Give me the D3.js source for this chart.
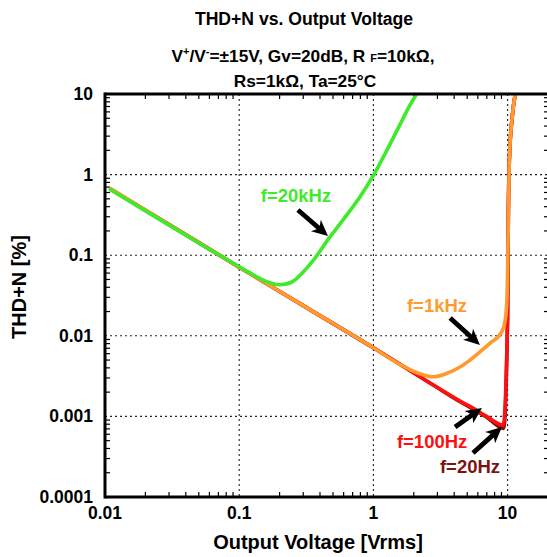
<!DOCTYPE html>
<html>
<head>
<meta charset="utf-8">
<script src="https://cdn.jsdelivr.net/npm/d3@7"></script>
<style>
  html, body { margin: 0; padding: 0; background: #fff; }
  text { font-family: "Liberation Sans", Arial, sans-serif; font-weight: bold; }
</style>
</head>
<body>
<svg id="chart" width="547" height="557"></svg>
<script>
// ---------- data ----------
const xTicks = [0.01, 0.1, 1, 10];
const xTickLabels = ["0.01", "0.1", "1", "10"];
const yTicks = [0.0001, 0.001, 0.01, 0.1, 1, 10];
const yTickLabels = ["0.0001", "0.001", "0.01", "0.1", "1", "10"];

const v20k = [0.011, 0.02, 0.05, 0.1, 0.13, 0.16, 0.2, 0.25, 0.3, 0.36, 0.47, 0.6, 0.8, 1.0, 1.26, 1.58, 1.85, 2.1];
const thd20k = [0.65, 0.355, 0.142, 0.072, 0.056, 0.047, 0.043, 0.047, 0.062, 0.088, 0.165, 0.28, 0.54, 0.98, 2.0, 4.2, 7.0, 10];

const v1k = [0.011, 0.03, 0.1, 0.3, 1.0, 1.58, 2.2, 2.79, 3.5, 4.42, 5.25, 6.22, 7.4, 9.04, 9.6, 9.9, 10.1, 10.3, 10.8, 11.4];
const thd1k = [0.67, 0.24, 0.071, 0.0237, 0.0071, 0.0044, 0.0034, 0.0031, 0.0034, 0.0041, 0.0050, 0.0063, 0.0081, 0.0112, 0.0157, 0.03, 0.2, 1.5, 5, 10];

const v100 = [0.011, 0.03, 0.1, 0.3, 1.0, 2.79, 4.42, 5.25, 6.98, 9.29, 10.0, 10.1, 10.3, 10.8, 11.4];
const thd100 = [0.66, 0.24, 0.071, 0.0237, 0.0071, 0.00245, 0.00155, 0.00133, 0.0010, 0.00078, 0.0173, 0.2, 1.5, 5, 10];

const v20 = [0.011, 0.03, 0.1, 0.3, 1.0, 2.79, 4.42, 6.98, 9.35, 10.0, 10.1, 10.3, 10.8, 11.4];
const thd20 = [0.66, 0.24, 0.071, 0.0237, 0.0071, 0.00245, 0.00152, 0.00098, 0.00071, 0.0173, 0.2, 1.5, 5, 10];

const seriesNames = ["f=20Hz", "f=100Hz", "f=1kHz", "f=20kHz"];
const seriesColors = ["#8a0d0d", "#ff1010", "#ff9a2e", "#3fea2a"];
const labelColors = ["#7d1212", "#ff1010", "#ff9a2e", "#3fea2a"];
// label anchor (V, THD) and arrow tail/tip (V, THD)
const labelPos = [[5.25, 0.000199], [2.74, 0.000405], [2.98, 0.0197], [0.265, 0.457]];
const arrowTail = [[5.52, 0.000352], [4.06, 0.00074], [3.73, 0.0166], [0.274, 0.364]];
const arrowTip = [[9.08, 0.00074], [6.44, 0.00127], [6.22, 0.0077], [0.459, 0.173]];

// ---------- layout ----------
const svg = d3.select("#chart");
const x = d3.scaleLog().domain([0.01, 20]).range([105, 548]);
const y = d3.scaleLog().domain([0.0001, 10]).range([497, 94]);
const [x0, x1] = x.range();
const [y0, y1] = y.range();

// grid
const grid = svg.append("g").attr("stroke", "#222").attr("stroke-width", 1.1).attr("stroke-dasharray", "2,3");
grid.selectAll(".gx").data(xTicks.filter(d => d > 0.01)).join("line")
  .attr("x1", d => x(d)).attr("x2", d => x(d)).attr("y1", y1).attr("y2", y0);
grid.selectAll(".gy").data(yTicks.filter(d => d > 0.0001 && d < 10)).join("line")
  .attr("x1", x0).attr("x2", x1).attr("y1", d => y(d)).attr("y2", d => y(d));

// minor ticks (inward)
const xMinor = [], yMinor = [];
for (let e = -2; e <= 1; e++) for (let m = 2; m <= 9; m++) { const v = m * Math.pow(10, e); if (v < 20) xMinor.push(v); }
for (let e = -4; e <= 0; e++) for (let m = 2; m <= 9; m++) yMinor.push(m * Math.pow(10, e));
const tk = svg.append("g").attr("stroke", "#000").attr("stroke-width", 1.2);
tk.selectAll(".tb").data(xMinor).join("line").attr("x1", d => x(d)).attr("x2", d => x(d)).attr("y1", y0).attr("y2", y0 - 5);
tk.selectAll(".tt").data(xMinor).join("line").attr("x1", d => x(d)).attr("x2", d => x(d)).attr("y1", y1).attr("y2", y1 + 5);
tk.selectAll(".tl").data(yMinor).join("line").attr("y1", d => y(d)).attr("y2", d => y(d)).attr("x1", x0).attr("x2", x0 + 5);
tk.selectAll(".tr").data(yMinor).join("line").attr("y1", d => y(d)).attr("y2", d => y(d)).attr("x1", x1 + 1).attr("x2", x1 - 4);

// curves
const lineMono = d3.line().x(d => x(d[0])).y(d => y(d[1])).curve(d3.curveMonotoneX);
const lineSmooth = d3.line().x(d => x(d[0])).y(d => y(d[1])).curve(d3.curveCatmullRom.alpha(0.5));
const series = [
  d3.zip(v20, thd20), d3.zip(v100, thd100), d3.zip(v1k, thd1k), d3.zip(v20k, thd20k)
];
svg.append("defs").append("clipPath").attr("id", "clip")
  .append("rect").attr("x", x0).attr("y", y1).attr("width", x1 - x0).attr("height", y0 - y1);
svg.append("g").attr("clip-path", "url(#clip)")
  .selectAll("path").data(series).join("path")
  .attr("d", (d, i) => i === 3 ? lineSmooth(d) : lineMono(d)).attr("fill", "none")
  .attr("stroke", (d, i) => seriesColors[i]).attr("stroke-width", 3.6)
  .attr("stroke-linejoin", "round").attr("stroke-linecap", "round");

// frame (right edge falls just outside the picture)
const frame = svg.append("g").attr("stroke", "#000").attr("stroke-width", 3).attr("fill", "none");
frame.append("line").attr("x1", x0).attr("x2", x0).attr("y1", y1 - 1.5).attr("y2", y0 + 1.5);
frame.append("line").attr("x1", x0).attr("x2", x1 + 3).attr("y1", y1).attr("y2", y1);
frame.append("line").attr("x1", x0).attr("x2", x1 + 3).attr("y1", y0).attr("y2", y0);
frame.append("line").attr("x1", x1 + 2).attr("x2", x1 + 2).attr("y1", y1).attr("y2", y0);

// tick labels
svg.append("g").selectAll("text").data(xTicks).join("text")
  .attr("x", d => x(d)).attr("y", 519).attr("text-anchor", "middle")
  .attr("font-size", 17.5).text((d, i) => xTickLabels[i]);
svg.append("g").selectAll("text").data(yTicks).join("text")
  .attr("x", 93).attr("y", d => y(d) + 6).attr("text-anchor", "end")
  .attr("font-size", 17.5).text((d, i) => yTickLabels[i]);

// axis titles
svg.append("text").attr("x", 318).attr("y", 549).attr("text-anchor", "middle")
  .attr("font-size", 20).text("Output Voltage [Vrms]");
svg.append("text").attr("transform", "translate(26,287) rotate(-90)").attr("text-anchor", "middle")
  .attr("font-size", 20).text("THD+N [%]");

// titles
svg.append("text").attr("x", 304).attr("y", 25).attr("text-anchor", "middle")
  .attr("font-size", 17.6).text("THD+N vs. Output Voltage");
const sub = svg.append("text").attr("x", 303).attr("y", 62).attr("text-anchor", "middle").attr("font-size", 17.3);
sub.append("tspan").text("V");
sub.append("tspan").attr("font-size", 11).attr("dy", -7).text("+");
sub.append("tspan").attr("dy", 7).text("/V");
sub.append("tspan").attr("font-size", 11).attr("dy", -7).text("-");
sub.append("tspan").attr("dy", 7).text("=±15V, Gv=20dB, R ");
sub.append("tspan").attr("font-size", 11).text("F");
sub.append("tspan").text("=10kΩ,");
svg.append("text").attr("x", 305).attr("y", 87).attr("text-anchor", "middle")
  .attr("font-size", 17.3).text("Rs=1kΩ, Ta=25°C");

// annotations
const ann = svg.append("g");
seriesNames.forEach((name, i) => {
  ann.append("text").attr("x", x(labelPos[i][0])).attr("y", y(labelPos[i][1]))
    .attr("text-anchor", "middle").attr("font-size", 18.5).attr("fill", labelColors[i]).text(name);
  const tx = x(arrowTail[i][0]), ty = y(arrowTail[i][1]);
  const hx = x(arrowTip[i][0]), hy = y(arrowTip[i][1]);
  const ang = Math.atan2(hy - ty, hx - tx);
  const L = Math.hypot(hx - tx, hy - ty);
  const headL = 16, headW = 7.5, shaftW = 2.4, notch = 3;
  const pts = [[0, -shaftW], [L - headL + notch, -shaftW], [L - headL, -headW], [L, 0], [L - headL, headW], [L - headL + notch, shaftW], [0, shaftW]]
    .map(([a, b]) => [tx + a * Math.cos(ang) - b * Math.sin(ang), ty + a * Math.sin(ang) + b * Math.cos(ang)]);
  ann.append("path").attr("d", "M" + pts.map(p => p.join(",")).join("L") + "Z").attr("fill", "#000");
});
</script>
</body>
</html>
